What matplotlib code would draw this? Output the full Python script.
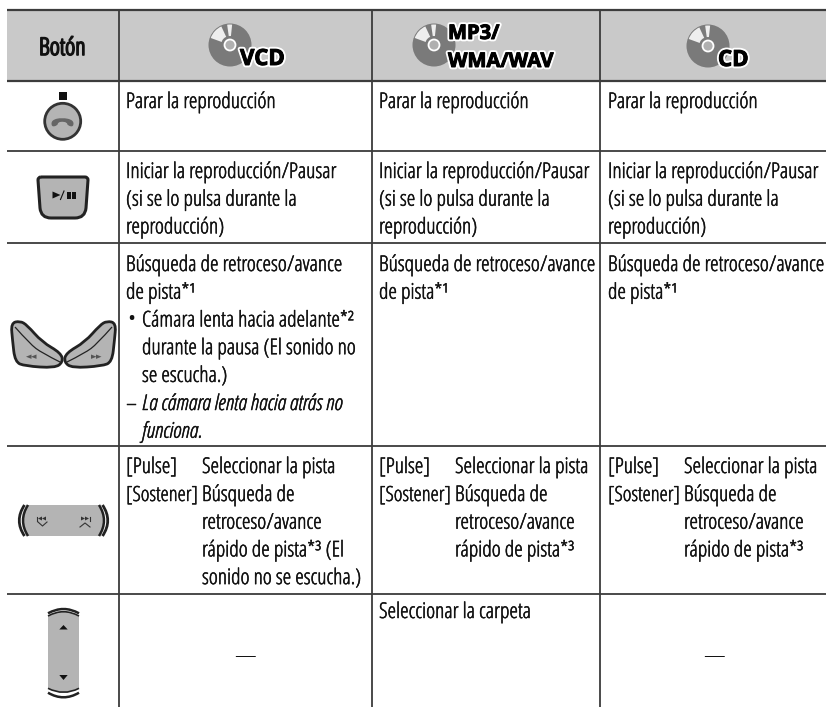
# plot.py - control table with button icons
import numpy as np
import matplotlib
matplotlib.use("Agg")
import matplotlib.pyplot as plt
import matplotlib.patheffects as pe
from matplotlib.patches import Circle, Polygon, PathPatch, Rectangle, Wedge
from matplotlib.path import Path

# === Data ===
header_label = "Botón"
col_labels = ["VCD", "MP3/\nWMA/WAV", "CD"]

row_stop = "Parar la reproducción"
row_play = ["Iniciar la reproducción/Pausar", "(si se lo pulsa durante la", "reproducción)"]
row_seek_main = ["Búsqueda de retroceso/avance", "de pista*¹"]
row_seek_bullet = ["Cámara lenta hacia adelante*²", "durante la pausa (El sonido no", "se escucha.)"]
row_seek_note = ["La cámara lenta hacia atrás no", "funciona."]
pulse_label = "[Pulse]"
hold_label = "[Sostener]"
pulse_text = "Seleccionar la pista"
hold_text_vcd = ["Búsqueda de", "retroceso/avance", "rápido de pista*³ (El", "sonido no se escucha.)"]
hold_text_other = ["Búsqueda de", "retroceso/avance", "rápido de pista*³"]
folder_text = "Seleccionar la carpeta"
no_function = "—"

# === Layout (pixels) ===
W, H = 826, 707
LEFT, RIGHT = 7, 826
col_x = [118.5, 372, 600]
row_y = [10, 81, 151, 243, 446, 594]
text_x = [126, 379, 608]
LINE = 27.7
DARK = "#3c3c3c"
BTN = "#b4b4b4"
INK = "#222222"

plt.rcParams["font.family"] = ["Open Sans", "DejaVu Sans"]

fig = plt.figure(figsize=(W / 100, H / 100), dpi=100)
ax = fig.add_axes([0, 0, 1, 1])
ax.set_xlim(0, W)
ax.set_ylim(H, 0)
ax.axis("off")


def txt(x, y, s, size=15.6, style="normal", color="#111111", extra=0.35, **kw):
    t = ax.text(x, y, s, fontsize=size, family="Open Sans", stretch="condensed", style=style,
                weight="light", color=color, va="baseline", **kw)
    if extra:
        t.set_path_effects([pe.withStroke(linewidth=extra, foreground=color)])
    return t


def lines(x, y, items, **kw):
    for i, s in enumerate(items):
        txt(x, y + i * LINE, s, **kw)


def curve(points, closed=True, **kw):
    # smooth closed/open shape through quadratic segments
    pts = np.array(points, dtype=float)
    n = len(pts)
    verts = [(pts[0] + pts[-1]) / 2 if closed else pts[0]]
    codes = [Path.MOVETO]
    rng = range(n) if closed else range(1, n - 1)
    for i in rng:
        nxt = (pts[i] + pts[(i + 1) % n]) / 2
        verts += [pts[i], nxt]
        codes += [Path.CURVE3, Path.CURVE3]
    if not closed:
        verts[-1] = pts[-1]
    ax.add_patch(PathPatch(Path(verts, codes), **kw))


def bow(p0, ctrl, p1, lw):
    # single quadratic arc, used for the button rims
    ax.add_patch(PathPatch(Path([p0, ctrl, p1], [Path.MOVETO, Path.CURVE3, Path.CURVE3]),
                           fc="none", ec=INK, lw=lw, capstyle="butt"))


# === Table ===
ax.add_patch(Rectangle((LEFT, row_y[0]), RIGHT - LEFT, row_y[1] - row_y[0], fc="#c9c9c9", ec="none", zorder=0))
for i, y in enumerate(row_y):
    ax.plot([LEFT, RIGHT], [y, y], color=DARK, lw=1.6 if i < 2 else 1.3, solid_capstyle="butt")
for x in col_x:
    ax.plot([x, x], [row_y[0], H], color=DARK, lw=1.3, solid_capstyle="butt")

# === Header ===
txt(39, 55, header_label, size=17.5, extra=1.2)


def disc(cx, cy):
    r = 21.5
    ax.add_patch(Circle((cx, cy), r, fc="#7a7a7a", ec="none"))
    ax.add_patch(Wedge((cx, cy), r - 1, 200, 245, fc="#eeeeee", ec="none"))
    ax.add_patch(Wedge((cx, cy), r - 1, 262, 276, fc="#eeeeee", ec="none"))
    ax.add_patch(Circle((cx, cy), 9, fc="#7a7a7a", ec="none"))
    ax.add_patch(Circle((cx, cy), 5.5, fc="#b0b0b0", ec="white", lw=1.3))


def badge(x, y, s, size):
    t = ax.text(x, y, s, fontsize=size, family="Open Sans", weight="bold", color="black", va="baseline")
    t.set_path_effects([pe.Stroke(linewidth=3.4, foreground="white"),
                        pe.Stroke(linewidth=0.7, foreground="black"), pe.Normal()])


disc(230, 45)
badge(240, 65, col_labels[0], 16)
disc(434, 45)
mp3, wma = col_labels[1].split("\n")
badge(448, 39, mp3, 14.5)
badge(448, 67, wma, 14.5)
disc(708, 46)
badge(718, 66, col_labels[2], 16)

# === Body text ===
for k, x in enumerate(text_x):
    txt(x, 108, row_stop)
    lines(x, 178, row_play)
    lines(x, 271, row_seek_main)
    txt(x, 473, pulse_label)
    txt(x + 76, 473, pulse_text)
    txt(x, 501, hold_label, size=15)
    lines(x + 76, 501, hold_text_vcd if k == 0 else hold_text_other)

xv = text_x[0]
txt(xv + 1, 326.5, "•", extra=0)
lines(xv + 16, 326.5, row_seek_bullet)
txt(xv, 410, "–")
lines(xv + 16, 410, row_seek_note, style="italic")

txt(text_x[1], 618, folder_text)
txt(245, 662, no_function, ha="center", extra=0)
txt(714, 662, no_function, ha="center", extra=0)

# === Stop button ===
ax.add_patch(Rectangle((59, 92), 7.7, 7.7, fc="#111111", ec="none"))
ax.add_patch(Circle((62.7, 121.3), 18, fc=BTN, ec="#333333", lw=2))
curve([(51.5, 127), (51.5, 120), (62, 117.5), (73.5, 120), (73.5, 127), (67.5, 125.5), (67, 122.5),
       (62, 121.5), (58, 122.5), (57.5, 125.5)], fc="#666666", ec="none")

# === Play / pause button ===
play_verts = [(41, 177), (85, 177), (88, 177), (88, 180), (86, 208), (85, 218), (75, 218),
              (51, 218), (41, 218), (40, 208), (38, 180), (38, 177), (41, 177)]
play_codes = [Path.MOVETO, Path.LINETO, Path.CURVE3, Path.CURVE3, Path.LINETO, Path.CURVE3, Path.CURVE3,
              Path.LINETO, Path.CURVE3, Path.CURVE3, Path.LINETO, Path.CURVE3, Path.CURVE3]
ax.add_patch(PathPatch(Path(play_verts, play_codes), fc=BTN, ec=INK, lw=2.2, joinstyle="round"))
ax.add_patch(Polygon([(52.5, 191.5), (60.5, 195), (52.5, 198.5)], fc="#111111", ec="none"))
ax.plot([60.5, 64], [199.5, 191], color="#111111", lw=0.8)
ax.add_patch(Rectangle((67, 192), 3.8, 6.5, fc="#111111", ec="none"))
ax.add_patch(Rectangle((72, 192), 3.8, 6.5, fc="#111111", ec="none"))

# === Seek buttons ===
left_btn = [(11, 323), (20, 321), (27, 325), (42, 342), (61, 353), (63, 362), (55, 368), (25, 366), (15, 362), (12.5, 340)]
left_inner = [(15, 327), (30, 344), (42, 353), (60, 362)]
for mirror in (False, True):
    shape = [(127 - x, y) if mirror else (x, y) for x, y in left_btn]
    inner = [(127 - x, y) if mirror else (x, y) for x, y in left_inner]
    curve(shape, fc=BTN, ec=INK, lw=2, joinstyle="round")
    curve(inner, closed=False, fc="none", ec=INK, lw=0.9)
for x0 in (26, 31):
    ax.add_patch(Polygon([(x0, 356.7), (x0 + 5.5, 354.5), (x0 + 5.5, 358.9)], fc="#555555", ec="none"))
for x0 in (96, 91):
    ax.add_patch(Polygon([(x0 + 5.5, 356.7), (x0, 354.5), (x0, 358.9)], fc="#555555", ec="none"))

# === Track buttons ===
track_verts = [(28, 505), (99, 505), (109, 520.5), (99, 536), (28, 536), (18, 520.5), (28, 505)]
track_codes = [Path.MOVETO, Path.LINETO, Path.CURVE3, Path.CURVE3, Path.LINETO, Path.CURVE3, Path.CURVE3]
ax.add_patch(PathPatch(Path(track_verts, track_codes), fc=BTN, ec="none"))
bow((28, 505), (18, 520.5), (28, 536), 1.8)
bow((24.5, 505), (14, 520.5), (24.5, 536), 2)
bow((99, 505), (109, 520.5), (99, 536), 1.8)
bow((102.5, 505), (113, 520.5), (102.5, 536), 2)
for x0 in (38, 42):
    ax.add_patch(Polygon([(x0, 518.5), (x0 + 4, 516.5), (x0 + 4, 520.5)], fc="#333333", ec="none"))
for x0 in (81, 85):
    ax.add_patch(Polygon([(x0 + 4, 518.5), (x0, 516.5), (x0, 520.5)], fc="#333333", ec="none"))
ax.plot([37, 37], [516.5, 520.5], color="#333333", lw=0.8)
ax.plot([90, 90], [516.5, 520.5], color="#333333", lw=0.8)
ax.plot([38, 42.5, 47], [522, 526, 522], color="#333333", lw=0.8)
ax.plot([80, 85, 90], [527, 523, 527], color="#333333", lw=0.8)

# === Folder button ===
folder_verts = [(48, 616), (63.5, 607.4), (79, 616), (79, 688.3), (63.5, 696.3), (48, 688.3), (48, 616)]
folder_codes = [Path.MOVETO, Path.CURVE3, Path.CURVE3, Path.LINETO, Path.CURVE3, Path.CURVE3, Path.LINETO]
ax.add_patch(PathPatch(Path(folder_verts, folder_codes), fc=BTN, ec="none"))
bow((48, 616), (63.5, 607.4), (79, 616), 1.2)
bow((48, 613.3), (63.5, 604.7), (79, 613.3), 1.8)
bow((48, 688.3), (63.5, 696.3), (79, 688.3), 1.2)
bow((48, 692.7), (63.5, 701.9), (79, 692.7), 1.8)
ax.add_patch(Polygon([(59.3, 629.5), (67.7, 629.5), (63.5, 625)], fc="#111111", ec="none"))
ax.add_patch(Polygon([(59.3, 675), (67.7, 675), (63.5, 680)], fc="#111111", ec="none"))

fig.savefig("out.png", dpi=100)
